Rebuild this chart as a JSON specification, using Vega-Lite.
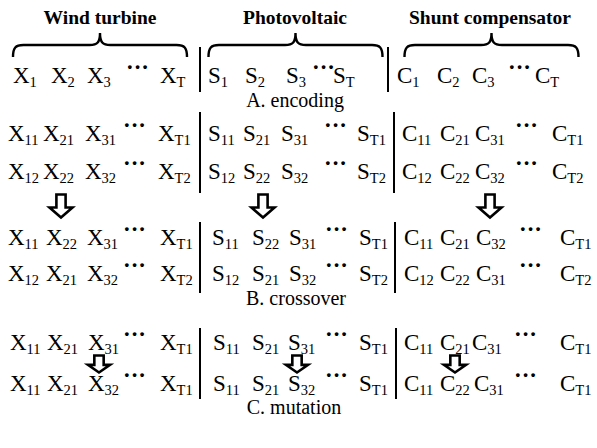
{
  "width": 597,
  "height": 448,
  "padding": 0,
  "autosize": {"type": "fit", "contains": "padding"},
  "config": {"view": {"stroke": null}},
  "datasets": {
    "glyphs": [
      {"L":"X","s":"1","x":13,"y":83},{"L":"X","s":"2","x":51,"y":83},{"L":"X","s":"3","x":87,"y":83},{"L":"X","s":"T","x":160,"y":83},
      {"L":"S","s":"1","x":208,"y":83},{"L":"S","s":"2","x":245,"y":83},{"L":"S","s":"3","x":286,"y":83},{"L":"S","s":"T","x":333,"y":83},
      {"L":"C","s":"1","x":397,"y":83},{"L":"C","s":"2","x":437,"y":83},{"L":"C","s":"3","x":472,"y":83},{"L":"C","s":"T","x":535,"y":83},

      {"L":"X","s":"11","x":8,"y":141},{"L":"X","s":"21","x":43,"y":141},{"L":"X","s":"31","x":85,"y":141},{"L":"X","s":"T1","x":158,"y":141},
      {"L":"S","s":"11","x":208,"y":141},{"L":"S","s":"21","x":243,"y":141},{"L":"S","s":"31","x":281,"y":141},{"L":"S","s":"T1","x":357,"y":141},
      {"L":"C","s":"11","x":402,"y":141},{"L":"C","s":"21","x":440,"y":141},{"L":"C","s":"31","x":475,"y":141},{"L":"C","s":"T1","x":552,"y":141},

      {"L":"X","s":"12","x":8,"y":179},{"L":"X","s":"22","x":43,"y":179},{"L":"X","s":"32","x":85,"y":179},{"L":"X","s":"T2","x":158,"y":179},
      {"L":"S","s":"12","x":208,"y":179},{"L":"S","s":"22","x":243,"y":179},{"L":"S","s":"32","x":281,"y":179},{"L":"S","s":"T2","x":357,"y":179},
      {"L":"C","s":"12","x":402,"y":179},{"L":"C","s":"22","x":440,"y":179},{"L":"C","s":"32","x":475,"y":179},{"L":"C","s":"T2","x":552,"y":179},

      {"L":"X","s":"11","x":8,"y":245},{"L":"X","s":"22","x":46,"y":245},{"L":"X","s":"31","x":87,"y":245},{"L":"X","s":"T1","x":160,"y":245},
      {"L":"S","s":"11","x":212,"y":245},{"L":"S","s":"22","x":252,"y":245},{"L":"S","s":"31","x":289,"y":245},{"L":"S","s":"T1","x":359,"y":245},
      {"L":"C","s":"11","x":404,"y":245},{"L":"C","s":"21","x":440,"y":245},{"L":"C","s":"32","x":476,"y":245},{"L":"C","s":"T1","x":560,"y":245},

      {"L":"X","s":"12","x":8,"y":281},{"L":"X","s":"21","x":46,"y":281},{"L":"X","s":"32","x":87,"y":281},{"L":"X","s":"T2","x":160,"y":281},
      {"L":"S","s":"12","x":212,"y":281},{"L":"S","s":"21","x":252,"y":281},{"L":"S","s":"32","x":289,"y":281},{"L":"S","s":"T2","x":359,"y":281},
      {"L":"C","s":"12","x":404,"y":281},{"L":"C","s":"22","x":440,"y":281},{"L":"C","s":"31","x":476,"y":281},{"L":"C","s":"T2","x":560,"y":281},

      {"L":"X","s":"11","x":10,"y":350},{"L":"X","s":"21","x":47,"y":350},{"L":"X","s":"31","x":88,"y":350},{"L":"X","s":"T1","x":160,"y":350},
      {"L":"S","s":"11","x":213,"y":350},{"L":"S","s":"21","x":252,"y":350},{"L":"S","s":"31","x":288,"y":350},{"L":"S","s":"T1","x":359,"y":350},
      {"L":"C","s":"11","x":404,"y":350},{"L":"C","s":"21","x":440,"y":350},{"L":"C","s":"31","x":472,"y":350},{"L":"C","s":"T1","x":560,"y":350},

      {"L":"X","s":"11","x":10,"y":391},{"L":"X","s":"21","x":47,"y":391},{"L":"X","s":"32","x":88,"y":391},{"L":"X","s":"T1","x":160,"y":391},
      {"L":"S","s":"11","x":213,"y":391},{"L":"S","s":"21","x":252,"y":391},{"L":"S","s":"32","x":288,"y":391},{"L":"S","s":"T1","x":359,"y":391},
      {"L":"C","s":"11","x":404,"y":391},{"L":"C","s":"22","x":440,"y":391},{"L":"C","s":"31","x":474,"y":391},{"L":"C","s":"T1","x":560,"y":391}
    ],
    "dots": [
      {"x":126,"y":83},{"x":312,"y":83},{"x":508,"y":83},
      {"x":123,"y":141},{"x":324,"y":141},{"x":515,"y":141},
      {"x":123,"y":179},{"x":324,"y":179},{"x":515,"y":179},
      {"x":123,"y":245},{"x":325,"y":245},{"x":519,"y":245},
      {"x":123,"y":281},{"x":325,"y":281},{"x":519,"y":281},
      {"x":123,"y":350},{"x":325,"y":350},{"x":514,"y":350},
      {"x":123,"y":391},{"x":325,"y":391},{"x":514,"y":391}
    ],
    "titles": [
      {"t":"Wind turbine","x":100,"y":24},
      {"t":"Photovoltaic","x":295,"y":24},
      {"t":"Shunt compensator","x":490,"y":24}
    ],
    "labels": [
      {"t":"A. encoding","x":295,"y":107},
      {"t":"B. crossover","x":296,"y":305},
      {"t":"C. mutation","x":294,"y":414}
    ],
    "seps": [
      {"x":200,"y":47,"y2":92},{"x":388,"y":47,"y2":92},
      {"x":200,"y":112,"y2":193},{"x":394,"y":112,"y2":193},
      {"x":200,"y":222,"y2":293},{"x":395,"y":222,"y2":293},
      {"x":200,"y":328,"y2":399},{"x":396,"y":328,"y2":399}
    ],
    "arrows": [
      {"x":61,"y":206},{"x":263,"y":206},{"x":490,"y":206}
    ],
    "arrows2": [
      {"x":99,"y":364},{"x":297,"y":364},{"x":455,"y":364}
    ],
    "braces": [
      {"x":100,"y":45},{"x":295.5,"y":45},{"x":491.5,"y":45}
    ]
  },
  "layer": [
    {
      "data": {"name": "braces"},
      "mark": {"type": "point", "filled": false, "stroke": "black", "strokeWidth": 2.4, "opacity": 1,
        "size": 30276,
        "shape": "M-1,0.138 C-1,0.03 -0.97,0 -0.88,0 L-0.12,0 C-0.03,0 0,-0.03 0,-0.138 C0,-0.03 0.03,0 0.12,0 L0.88,0 C0.97,0 1,0.03 1,0.138"},
      "encoding": {
        "x": {"field": "x", "type": "quantitative", "scale": {"domain": [0, 597], "nice": false, "zero": false}, "axis": null},
        "y": {"field": "y", "type": "quantitative", "scale": {"domain": [0, 448], "nice": false, "zero": false, "reverse": true}, "axis": null}
      }
    },
    {
      "data": {"name": "arrows"},
      "mark": {"type": "point", "filled": false, "stroke": "black", "strokeWidth": 2.6, "opacity": 1,
        "size": 529,
        "shape": "M-0.4,-1L0.4,-1L0.4,0.13L1,0.13L0,1L-1,0.13L-0.4,0.13Z"},
      "encoding": {
        "x": {"field": "x", "type": "quantitative"},
        "y": {"field": "y", "type": "quantitative"}
      }
    },
    {
      "data": {"name": "arrows2"},
      "mark": {"type": "point", "filled": false, "stroke": "black", "strokeWidth": 2.6, "opacity": 1,
        "size": 289,
        "shape": "M-0.55,-1L0.55,-1L0.55,0.1L1.3,0.1L0,1L-1.3,0.1L-0.55,0.1Z"},
      "encoding": {
        "x": {"field": "x", "type": "quantitative"},
        "y": {"field": "y", "type": "quantitative"}
      }
    },
    {
      "data": {"name": "seps"},
      "mark": {"type": "rule", "stroke": "black", "strokeWidth": 2},
      "encoding": {
        "x": {"field": "x", "type": "quantitative"},
        "y": {"field": "y", "type": "quantitative"},
        "y2": {"field": "y2"}
      }
    },
    {
      "data": {"name": "titles"},
      "mark": {"type": "text", "font": "Liberation Serif", "fontWeight": "bold", "fontSize": 19.5, "align": "center", "baseline": "alphabetic", "color": "black"},
      "encoding": {
        "x": {"field": "x", "type": "quantitative"},
        "y": {"field": "y", "type": "quantitative"},
        "text": {"field": "t"}
      }
    },
    {
      "data": {"name": "labels"},
      "mark": {"type": "text", "font": "Liberation Serif", "fontSize": 20, "align": "center", "baseline": "alphabetic", "color": "black"},
      "encoding": {
        "x": {"field": "x", "type": "quantitative"},
        "y": {"field": "y", "type": "quantitative"},
        "text": {"field": "t"}
      }
    },
    {
      "data": {"name": "dots"},
      "mark": {"type": "text", "font": "Liberation Serif", "fontWeight": "bold", "fontSize": 23, "align": "left", "baseline": "alphabetic", "dy": -8, "color": "black", "text": "···"},
      "encoding": {
        "x": {"field": "x", "type": "quantitative"},
        "y": {"field": "y", "type": "quantitative"}
      }
    },
    {
      "data": {"name": "glyphs"},
      "mark": {"type": "text", "font": "Liberation Serif", "fontSize": 23, "align": "left", "baseline": "alphabetic", "color": "black"},
      "encoding": {
        "x": {"field": "x", "type": "quantitative"},
        "y": {"field": "y", "type": "quantitative"},
        "text": {"field": "L"}
      }
    },
    {
      "data": {"name": "glyphs"},
      "transform": [{"filter": "datum.L === 'X'"}],
      "mark": {"type": "text", "font": "Liberation Serif", "fontSize": 14.5, "align": "left", "baseline": "alphabetic", "dx": 16.6, "dy": 4, "color": "black"},
      "encoding": {
        "x": {"field": "x", "type": "quantitative"},
        "y": {"field": "y", "type": "quantitative"},
        "text": {"field": "s"}
      }
    },
    {
      "data": {"name": "glyphs"},
      "transform": [{"filter": "datum.L === 'S'"}],
      "mark": {"type": "text", "font": "Liberation Serif", "fontSize": 14.5, "align": "left", "baseline": "alphabetic", "dx": 12.8, "dy": 4, "color": "black"},
      "encoding": {
        "x": {"field": "x", "type": "quantitative"},
        "y": {"field": "y", "type": "quantitative"},
        "text": {"field": "s"}
      }
    },
    {
      "data": {"name": "glyphs"},
      "transform": [{"filter": "datum.L === 'C'"}],
      "mark": {"type": "text", "font": "Liberation Serif", "fontSize": 14.5, "align": "left", "baseline": "alphabetic", "dx": 15.3, "dy": 4, "color": "black"},
      "encoding": {
        "x": {"field": "x", "type": "quantitative"},
        "y": {"field": "y", "type": "quantitative"},
        "text": {"field": "s"}
      }
    }
  ]
}
